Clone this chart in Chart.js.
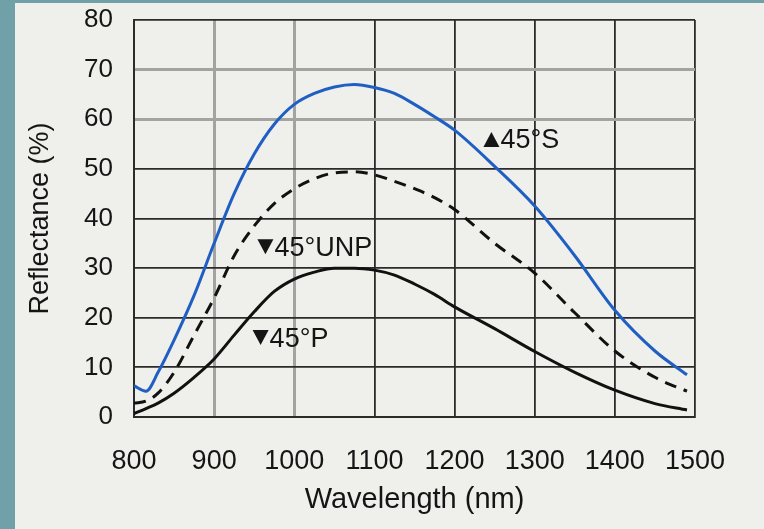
<!DOCTYPE html>
<html>
<head>
<meta charset="utf-8">
<script src="https://cdn.jsdelivr.net/npm/chart.js@4.4.1/dist/chart.umd.min.js"></script>
<style>
  html, body { margin: 0; padding: 0; }
  body { width: 764px; height: 529px; background: #efefeb; position: relative; overflow: hidden; }
  #stripLeft { position: absolute; left: 0; top: 0; width: 15px; height: 529px; background: #70a0a8; }
  #stripTop { position: absolute; left: 0; top: 0; width: 764px; height: 3px; background: #70a0a8; }
  #myChart { position: absolute; left: 0; top: 0; }
</style>
</head>
<body>
<div id="stripLeft"></div>
<div id="stripTop"></div>
<canvas id="myChart" width="764" height="529"></canvas>
<script>
// wavelength (nm)
var wavelengths = [800, 815, 830, 850, 875, 900, 925, 950, 975, 1000, 1025, 1050, 1075, 1100, 1125, 1150, 1175, 1200, 1250, 1300, 1350, 1400, 1450, 1490];
// reflectance (%) for each polarisation
var refS   = [6.3, 5.2, 9.0, 15.5, 24.5, 35.0, 45.0, 53.0, 59.0, 63.0, 65.2, 66.5, 67.0, 66.4, 65.2, 63.0, 60.5, 57.8, 50.5, 42.5, 32.5, 21.5, 13.3, 8.5];
var refUNP = [2.8, 3.2, 4.8, 9.0, 16.5, 24.0, 32.5, 38.5, 43.0, 46.0, 48.0, 49.2, 49.4, 48.8, 47.5, 46.0, 44.2, 41.8, 35.0, 29.0, 21.0, 13.3, 8.0, 5.2];
var refP   = [0.7, 1.7, 2.8, 4.8, 8.0, 11.7, 16.5, 21.2, 25.3, 27.8, 29.2, 30.0, 30.0, 29.6, 28.6, 26.8, 24.7, 22.2, 17.8, 13.2, 9.0, 5.4, 2.7, 1.4];

// curve labels: text, triangle direction, wavelength and reflectance where the label sits
var labelTexts = ['45°S', '45°UNP', '45°P'];
var labelUp = [true, false, false];
var labelX = [1236, 954, 948];
var labelY = [56, 34.2, 15.9];

var xTicks = [800, 900, 1000, 1100, 1200, 1300, 1400, 1500];
var yTicks = [0, 10, 20, 30, 40, 50, 60, 70, 80];
var lightX = [900, 1000];
var lightY = [60, 70];

function toPoints(ys) {
    return wavelengths.map(function (w, i) { return { x: w, y: ys[i] }; });
}

function gridColor(light) {
    return function (ctx) {
        if (ctx.tick && light.indexOf(ctx.tick.value) >= 0) return '#a3a3a1';
        return '#2b2b2b';
    };
}
function gridWidth(light) {
    return function (ctx) {
        if (ctx.tick && light.indexOf(ctx.tick.value) >= 0) return 3;
        return 1.8;
    };
}

// draws the triangle markers and curve names inside the plot
var curveLabels = {
    id: 'curveLabels',
    afterDatasetsDraw: function (chart) {
        var ctx = chart.ctx;
        var xs = chart.scales.x, ys = chart.scales.y;
        ctx.save();
        ctx.fillStyle = '#151515';
        ctx.font = '27px "Liberation Sans", Arial, sans-serif';
        ctx.textBaseline = 'middle';
        ctx.textAlign = 'left';
        for (var i = 0; i < labelTexts.length; i++) {
            var px = xs.getPixelForValue(labelX[i]);
            var py = ys.getPixelForValue(labelY[i]);
            ctx.beginPath();
            if (labelUp[i]) {
                ctx.moveTo(px, py + 8);
                ctx.lineTo(px + 16, py + 8);
                ctx.lineTo(px + 8, py - 7);
            } else {
                ctx.moveTo(px, py - 8);
                ctx.lineTo(px + 16, py - 8);
                ctx.lineTo(px + 8, py + 7);
            }
            ctx.closePath();
            ctx.fill();
            ctx.fillText(labelTexts[i], px + 17, py + 1);
        }
        ctx.restore();
    }
};

var ctx = document.getElementById('myChart').getContext('2d');
var myChart = new Chart(ctx, {
    type: 'line',
    data: {
        datasets: [{
            label: '45°S',
            data: toPoints(refS),
            borderColor: '#1f5fc4',
            borderWidth: 3,
            pointRadius: 0,
            cubicInterpolationMode: 'monotone',
            fill: false
        }, {
            label: '45°UNP',
            data: toPoints(refUNP),
            borderColor: '#111111',
            borderWidth: 3,
            borderDash: [12, 8],
            pointRadius: 0,
            cubicInterpolationMode: 'monotone',
            fill: false
        }, {
            label: '45°P',
            data: toPoints(refP),
            borderColor: '#111111',
            borderWidth: 3,
            pointRadius: 0,
            cubicInterpolationMode: 'monotone',
            fill: false
        }]
    },
    options: {
        responsive: false,
        animation: false,
        layout: { padding: { left: 0, top: 20, right: 69, bottom: 0 } },
        plugins: {
            legend: { display: false },
            tooltip: { enabled: false }
        },
        scales: {
            x: {
                type: 'linear',
                min: 800,
                max: 1500,
                afterBuildTicks: function (scale) {
                    scale.ticks = xTicks.map(function (v) { return { value: v }; });
                },
                afterFit: function (scale) { scale.height = 112; },
                grid: { color: gridColor(lightX), lineWidth: gridWidth(lightX), drawTicks: false },
                border: { display: true, color: '#2b2b2b', width: 2 },
                ticks: {
                    color: '#151515',
                    padding: 28,
                    maxRotation: 0,
                    autoSkip: false,
                    callback: function (v) { return String(v); },
                    font: { family: '"Liberation Sans", Arial, sans-serif', size: 27 }
                },
                title: {
                    display: true,
                    text: 'Wavelength (nm)',
                    color: '#151515',
                    padding: { top: 0, bottom: 12 },
                    font: { family: '"Liberation Sans", Arial, sans-serif', size: 29 }
                }
            },
            y: {
                min: 0,
                max: 80,
                afterBuildTicks: function (scale) {
                    scale.ticks = yTicks.map(function (v) { return { value: v }; });
                },
                afterFit: function (scale) {
                    scale.width = 134;
                    scale.paddingTop = 0;
                    scale.paddingBottom = 0;
                },
                grid: { color: gridColor(lightY), lineWidth: gridWidth(lightY), drawTicks: false },
                border: { display: true, color: '#2b2b2b', width: 2 },
                ticks: {
                    color: '#151515',
                    padding: 21,
                    callback: function (v) { return String(v); },
                    font: { family: '"Liberation Sans", Arial, sans-serif', size: 26 }
                },
                title: {
                    display: true,
                    text: 'Reflectance (%)',
                    color: '#151515',
                    padding: { top: 24, bottom: 0 },
                    font: { family: '"Liberation Sans", Arial, sans-serif', size: 27 }
                }
            }
        }
    },
    plugins: [curveLabels]
});
</script>
</body>
</html>
